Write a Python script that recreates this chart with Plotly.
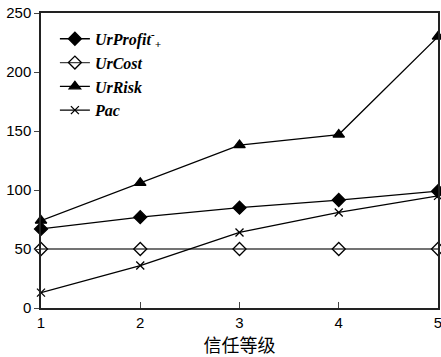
import plotly.graph_objects as go

levels = [1, 2, 3, 4, 5]
ur_profit = [67, 77, 85, 91.5, 99]
ur_cost = [50, 50, 50, 50, 50]
ur_risk = [74, 106, 138, 147, 230]
pac = [13, 36, 64, 81, 95]

names = ["<b><i>UrProfit<sup>-</sup><sub>+</sub></i></b>", "<b><i>UrCost</i></b>",
         "<b><i>UrRisk</i></b>", "<b><i>Pac</i></b>"]

fig = go.Figure()
series = [
    (ur_profit, names[0], "diamond", "black", 10),
    (ur_cost, names[1], "diamond-open", "#444", 10),
    (ur_risk, names[2], "triangle-up", "black", 10),
    (pac, names[3], "x-thin-open", "black", 8),
]
for ys, nm, sym, col, sz in series:
    fig.add_trace(go.Scatter(
        x=levels, y=ys, name=nm, mode="lines+markers",
        line=dict(color=col, width=1.3),
        marker=dict(symbol=sym, size=sz, color="black",
                    line=dict(color="black", width=1.3)),
        cliponaxis=False,
    ))

fig.update_layout(
    width=441, height=357,
    margin=dict(l=41, r=3, t=13, b=49),
    paper_bgcolor="white", plot_bgcolor="white",
    font=dict(family="Liberation Sans, Arial", size=15, color="black"),
    showlegend=True,
    legend=dict(x=0.035, y=0.97, xanchor="left", yanchor="top",
                bgcolor="rgba(0,0,0,0)",
                font=dict(family="Liberation Serif, Times New Roman", size=16, color="black"),
                tracegroupgap=0, itemwidth=30),
)
fig.update_xaxes(range=[1, 5], tickvals=levels, ticks="inside", ticklen=6,
                 showline=True, linecolor="#222", linewidth=1.5, mirror=True,
                 showgrid=False, zeroline=False, automargin=False, ticklabeloverflow="allow",
                 title=dict(text="信任等级", font=dict(family="Noto Sans CJK SC", size=18), standoff=1))
fig.update_yaxes(range=[0, 250], tickvals=[0, 50, 100, 150, 200, 250], ticks="outside", ticklen=5,
                 showline=True, linecolor="#222", linewidth=1.5, mirror=True,
                 showgrid=False, zeroline=False, automargin=False, ticklabeloverflow="allow")

fig.write_html("out.html", config={"displayModeBar": False},
               post_script="document.body.style.margin='0px';document.body.style.overflow='hidden';")
